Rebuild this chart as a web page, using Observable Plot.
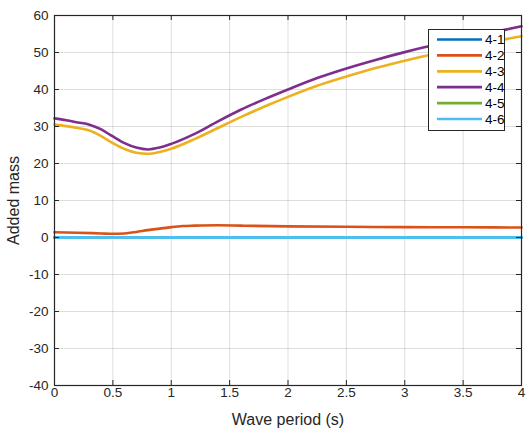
<!DOCTYPE html>
<html><head><meta charset="utf-8">
<script src="https://cdn.jsdelivr.net/npm/d3@7"></script>
<script src="https://cdn.jsdelivr.net/npm/@observablehq/plot@0.6"></script>
<style>
body{margin:0;background:#fff;}
#wrap{position:relative;width:526px;height:430px;font-family:"Liberation Sans",Arial,sans-serif;}
</style></head><body><div id="wrap"></div>
<script>
const seriesNames = ["4-1","4-2","4-3","4-4","4-5","4-6"];
const seriesColors = ["#0072BD","#D95319","#EDB120","#7E2F8E","#77AC30","#4DBEEE"];
const xTicks = [0,0.5,1,1.5,2,2.5,3,3.5,4];
const yTicks = [-40,-30,-20,-10,0,10,20,30,40,50,60];

const period43 = [0,0.1,0.2,0.3,0.4,0.5,0.6,0.7,0.8,0.9,1.0,1.2,1.4,1.6,1.8,2.0,2.25,2.5,2.75,3.0,3.25,3.5,3.75,4.0];
const s44 = [32.2,31.7,31.1,30.5,29.2,27.3,25.5,24.3,23.8,24.3,25.3,28.0,31.4,34.6,37.4,40.0,43.1,45.7,48.0,50.1,52.0,53.7,55.4,57.1];
const s43 = [30.5,30.1,29.6,28.9,27.4,25.5,23.9,22.9,22.6,23.1,24.0,26.6,29.6,32.6,35.4,38.0,41.0,43.5,45.8,47.8,49.6,51.2,52.9,54.4];
const period42 = [0,0.2,0.4,0.5,0.6,0.7,0.8,0.9,1.0,1.1,1.2,1.4,1.6,2.0,2.5,3.0,3.5,4.0];
const s42 = [1.4,1.3,1.1,1.0,1.1,1.5,2.0,2.4,2.8,3.1,3.2,3.3,3.2,3.0,2.9,2.8,2.75,2.7];
const periodZero = [0,4];
const s41 = [0,0];
const s45 = [0,0];
const s46 = [0,0];

const rows = [];
function add(name, xs, ys){ xs.forEach((x,i)=>rows.push({series:name, x, y:ys[i]})); }
add("4-1", periodZero, s41);
add("4-2", period42, s42);
add("4-3", period43, s43);
add("4-4", period43, s44);
add("4-5", periodZero, s45);
add("4-6", periodZero, s46);

const W = 526, H = 430, mL = 54, mR = 5, mT = 15, mB = 45;
const pw = W - mL - mR, ph = H - mT - mB;
const axisColor = "#262626";
const font = '"Liberation Sans", Arial, sans-serif';

const chart = Plot.plot({
  width: W, height: H,
  marginLeft: mL, marginRight: mR, marginTop: mT, marginBottom: mB,
  style: {fontFamily: font, fontSize: "13.5px", color: axisColor, background: "#fff"},
  x: {domain: [0,4]},
  y: {domain: [-40,60]},
  color: {domain: seriesNames, range: seriesColors},
  marks: [
    Plot.gridX(xTicks, {stroke: "#000", strokeOpacity: 0.13, strokeWidth: 1}),
    Plot.gridY(yTicks, {stroke: "#000", strokeOpacity: 0.13, strokeWidth: 1}),
    ...seriesNames.map(n => Plot.line(rows.filter(d=>d.series===n), {x:"x", y:"y", stroke: () => n, strokeWidth: n === "4-6" ? 3 : 2.6, curve: "monotone-x"})),
    Plot.frame({stroke: axisColor, strokeWidth: 1.2}),
    Plot.tickX(xTicks, {x: d=>d, stroke: axisColor, insetTop: ph - 5}),
    Plot.tickX(xTicks, {x: d=>d, stroke: axisColor, insetBottom: ph - 5}),
    Plot.tickY(yTicks, {y: d=>d, stroke: axisColor, insetRight: pw - 5}),
    Plot.tickY(yTicks, {y: d=>d, stroke: axisColor, insetLeft: pw - 5}),
    Plot.axisX(xTicks, {tickSize: 0, tickPadding: 2, label: null, fill: axisColor, fontSize: 13.5, tickFormat: d => String(d)}),
    Plot.axisY(yTicks, {tickSize: 0, tickPadding: 6, label: null, fill: axisColor, fontSize: 13.5, tickFormat: d => String(d)}),
    Plot.text(["Wave period (s)"], {frameAnchor: "bottom", lineAnchor: "middle", textAnchor: "middle", dy: 34, fontSize: 16, fill: axisColor}),
    Plot.text(["Added mass"], {frameAnchor: "left", lineAnchor: "middle", textAnchor: "middle", dx: -41, rotate: -90, fontSize: 16, fill: axisColor})
  ]
});
const wrap = document.getElementById("wrap");
wrap.appendChild(chart);

// legend
const leg = document.createElementNS("http://www.w3.org/2000/svg","svg");
leg.setAttribute("width", 77); leg.setAttribute("height", 102);
leg.style.position = "absolute"; leg.style.left = "428px"; leg.style.top = "29px";
let inner = `<rect x="0.5" y="0.5" width="76" height="101" fill="#fff" stroke="#262626" stroke-width="1"/>`;
seriesNames.forEach((n,i)=>{
  const y = 10.5 + i*15.9;
  inner += `<line x1="9" x2="54" y1="${y}" y2="${y}" stroke="${seriesColors[i]}" stroke-width="2.7"/>`;
  inner += `<text x="57" y="${y}" dy="0.36em" font-family='${font}' font-size="13.5" fill="#000">${n}</text>`;
});
leg.innerHTML = inner;
wrap.appendChild(leg);
</script></body></html>
